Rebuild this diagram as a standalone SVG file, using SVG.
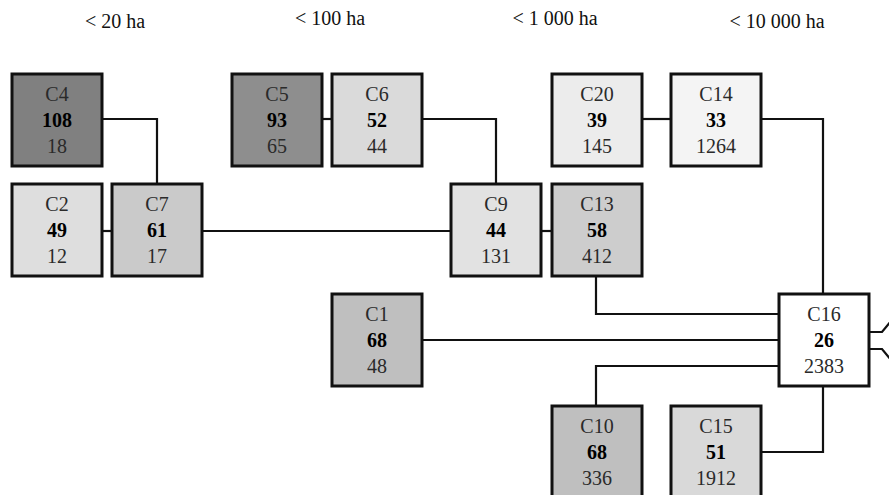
<svg xmlns="http://www.w3.org/2000/svg" width="889" height="495" viewBox="0 0 889 495">
<style>
.box{stroke:#111;stroke-width:3}
.t{font-family:"Liberation Serif","Times New Roman",serif;font-size:20px;text-anchor:middle;fill:#2a2a2a}
.b{font-weight:bold;fill:#000}
.h{font-family:"Liberation Serif","Times New Roman",serif;font-size:20px;text-anchor:middle;fill:#111}
.c{fill:none;stroke:#111;stroke-width:2.2}
</style>
<rect width="889" height="495" fill="#fff"/>
<g id="headers">
<text class="h" x="115" y="28">&lt; 20 ha</text>
<text class="h" x="330" y="25">&lt; 100 ha</text>
<text class="h" x="555" y="25">&lt; 1 000 ha</text>
<text class="h" x="777" y="28">&lt; 10 000 ha</text>
</g>
<g id="connectors">
<path class="c" d="M102,119 H157 V184"/>
<path class="c" d="M102,231 H112"/>
<path class="c" d="M202,231 H451"/>
<path class="c" d="M322,119 H332"/>
<path class="c" d="M423,119 H496 V184"/>
<path class="c" d="M541,231 H552"/>
<path class="c" d="M641,119 H671"/>
<path class="c" d="M761,119 H823 V294"/>
<path class="c" d="M596,276 V314 H779"/>
<path class="c" d="M422,340 H779"/>
<path class="c" d="M596,406 V366 H779"/>
<path class="c" d="M761,452 H823 V386"/>
<path class="c" d="M869,332 H882 L891,321 L911,340 L891,360 L882,349 H869" fill="#fff"/>
</g>
<g id="C4"><rect class="box" x="12" y="74" width="90" height="92" fill="#808080"/><text class="t" x="57" y="101">C4</text><text class="t b" x="57" y="127">108</text><text class="t" x="57" y="153">18</text></g>
<g id="C2"><rect class="box" x="12" y="184" width="90" height="92" fill="#dedede"/><text class="t" x="57" y="211">C2</text><text class="t b" x="57" y="237">49</text><text class="t" x="57" y="263">12</text></g>
<g id="C7"><rect class="box" x="112" y="184" width="90" height="92" fill="#cacaca"/><text class="t" x="157" y="211">C7</text><text class="t b" x="157" y="237">61</text><text class="t" x="157" y="263">17</text></g>
<g id="C5"><rect class="box" x="232" y="74" width="90" height="92" fill="#8e8e8e"/><text class="t" x="277" y="101">C5</text><text class="t b" x="277" y="127">93</text><text class="t" x="277" y="153">65</text></g>
<g id="C6"><rect class="box" x="332" y="74" width="90" height="92" fill="#dadada"/><text class="t" x="377" y="101">C6</text><text class="t b" x="377" y="127">52</text><text class="t" x="377" y="153">44</text></g>
<g id="C9"><rect class="box" x="451" y="184" width="90" height="92" fill="#e2e2e2"/><text class="t" x="496" y="211">C9</text><text class="t b" x="496" y="237">44</text><text class="t" x="496" y="263">131</text></g>
<g id="C20"><rect class="box" x="552" y="74" width="90" height="92" fill="#ececec"/><text class="t" x="597" y="101">C20</text><text class="t b" x="597" y="127">39</text><text class="t" x="597" y="153">145</text></g>
<g id="C14"><rect class="box" x="671" y="74" width="90" height="92" fill="#f4f4f4"/><text class="t" x="716" y="101">C14</text><text class="t b" x="716" y="127">33</text><text class="t" x="716" y="153">1264</text></g>
<g id="C13"><rect class="box" x="552" y="184" width="90" height="92" fill="#cdcdcd"/><text class="t" x="597" y="211">C13</text><text class="t b" x="597" y="237">58</text><text class="t" x="597" y="263">412</text></g>
<g id="C1"><rect class="box" x="332" y="294" width="90" height="92" fill="#bfbfbf"/><text class="t" x="377" y="321">C1</text><text class="t b" x="377" y="347">68</text><text class="t" x="377" y="373">48</text></g>
<g id="C16"><rect class="box" x="779" y="294" width="90" height="92" fill="#ffffff"/><text class="t" x="824" y="321">C16</text><text class="t b" x="824" y="347">26</text><text class="t" x="824" y="373">2383</text></g>
<g id="C10"><rect class="box" x="552" y="406" width="90" height="92" fill="#bfbfbf"/><text class="t" x="597" y="433">C10</text><text class="t b" x="597" y="459">68</text><text class="t" x="597" y="485">336</text></g>
<g id="C15"><rect class="box" x="671" y="406" width="90" height="92" fill="#d9d9d9"/><text class="t" x="716" y="433">C15</text><text class="t b" x="716" y="459">51</text><text class="t" x="716" y="485">1912</text></g>
</svg>
